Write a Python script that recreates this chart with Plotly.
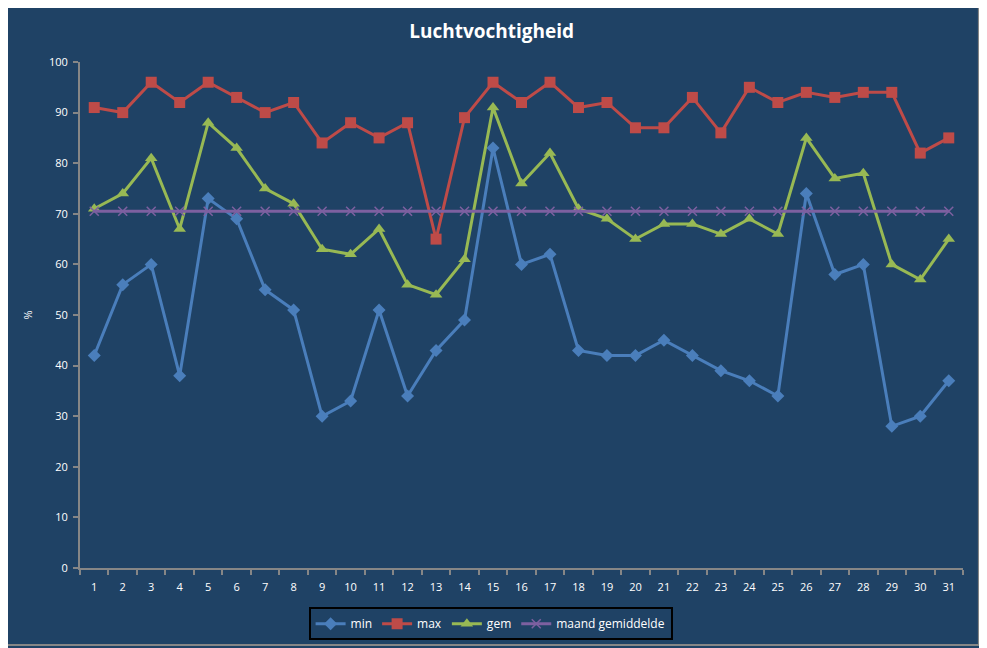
import plotly.graph_objects as go

days = [str(d) for d in range(1, 32)]

vals_min = [42, 56, 60, 38, 73, 69, 55, 51, 30, 33, 51, 34, 43, 49, 83, 60,
            62, 43, 42, 42, 45, 42, 39, 37, 34, 74, 58, 60, 28, 30, 37]
vals_max = [91, 90, 96, 92, 96, 93, 90, 92, 84, 88, 85, 88, 65, 89, 96, 92,
            96, 91, 92, 87, 87, 93, 86, 95, 92, 94, 93, 94, 94, 82, 85]
vals_gem = [71, 74, 81, 67, 88, 83, 75, 72, 63, 62, 67, 56, 54, 61, 91, 76,
            82, 71, 69, 65, 68, 68, 66, 69, 66, 85, 77, 78, 60, 57, 65]
vals_maand = [70.5, 70.5, 70.5, 70.5, 70.5, 70.5, 70.5, 70.5, 70.5, 70.5, 70.5,
              70.5, 70.5, 70.5, 70.5, 70.5, 70.5, 70.5, 70.5, 70.5, 70.5, 70.5,
              70.5, 70.5, 70.5, 70.5, 70.5, 70.5, 70.5, 70.5, 70.5]

bg = '#1F4265'
font = 'Open Sans'

fig = go.Figure()

series = [
    ('min', vals_min, '#4A7EBB', 'diamond', 10),
    ('max', vals_max, '#BE4B48', 'square', 11),
    ('gem', vals_gem, '#98B954', 'triangle-up', 11),
]
for name, vals, col, sym, size in series:
    fig.add_trace(go.Scatter(
        x=days, y=vals, name=name, mode='lines+markers',
        line=dict(color=col, width=3),
        marker=dict(symbol=sym, size=size, color=col),
    ))

fig.add_trace(go.Scatter(
    x=days, y=vals_maand, name='maand gemiddelde', mode='lines+markers',
    line=dict(color='#7D60A0', width=3),
    marker=dict(symbol='x-thin', size=9, color='#7D60A0',
                line=dict(color='#7D60A0', width=1.5)),
))

# page body has an 8px margin, so margins are shifted to compensate
fig.update_layout(
    width=987, height=648,
    paper_bgcolor=bg, plot_bgcolor=bg,
    margin=dict(l=72, r=32, t=54, b=88),
    font=dict(family=font, size=11, color='white'),
    title=dict(text='<b>Luchtvochtigheid</b>', x=0.49, xanchor='center',
               y=0.9645, yanchor='middle',
               font=dict(family=font, size=19, color='white')),
    showlegend=True,
    legend=dict(orientation='h', x=0.465, xanchor='center', y=-0.11,
                yanchor='middle', bgcolor=bg, bordercolor='black',
                borderwidth=2, font=dict(size=12, color='white'),
                itemwidth=30),
    xaxis=dict(type='category', range=[-0.5, 30.5], showgrid=False,
               showline=True, linecolor='#868686', linewidth=2,
               ticks='outside', tickson='boundaries', ticklen=5,
               tickcolor='#868686', tickwidth=2, zeroline=False,
               ticklabelstandoff=8),
    yaxis=dict(range=[0, 100], dtick=10, showgrid=False, showline=True,
               linecolor='#868686', linewidth=2, ticks='outside',
               ticklen=5, tickcolor='#868686', tickwidth=2, zeroline=False,
               ticklabelstandoff=3,
               title=dict(text='%', standoff=14, font=dict(size=11))),
    shapes=[dict(type='rect', xref='paper', yref='paper',
                 x0=-0.086, x1=1.018, y0=-0.152, y1=1.1146,
                 line=dict(color='#868686', width=2), layer='below')],
)

fig.write_html('out.html')
